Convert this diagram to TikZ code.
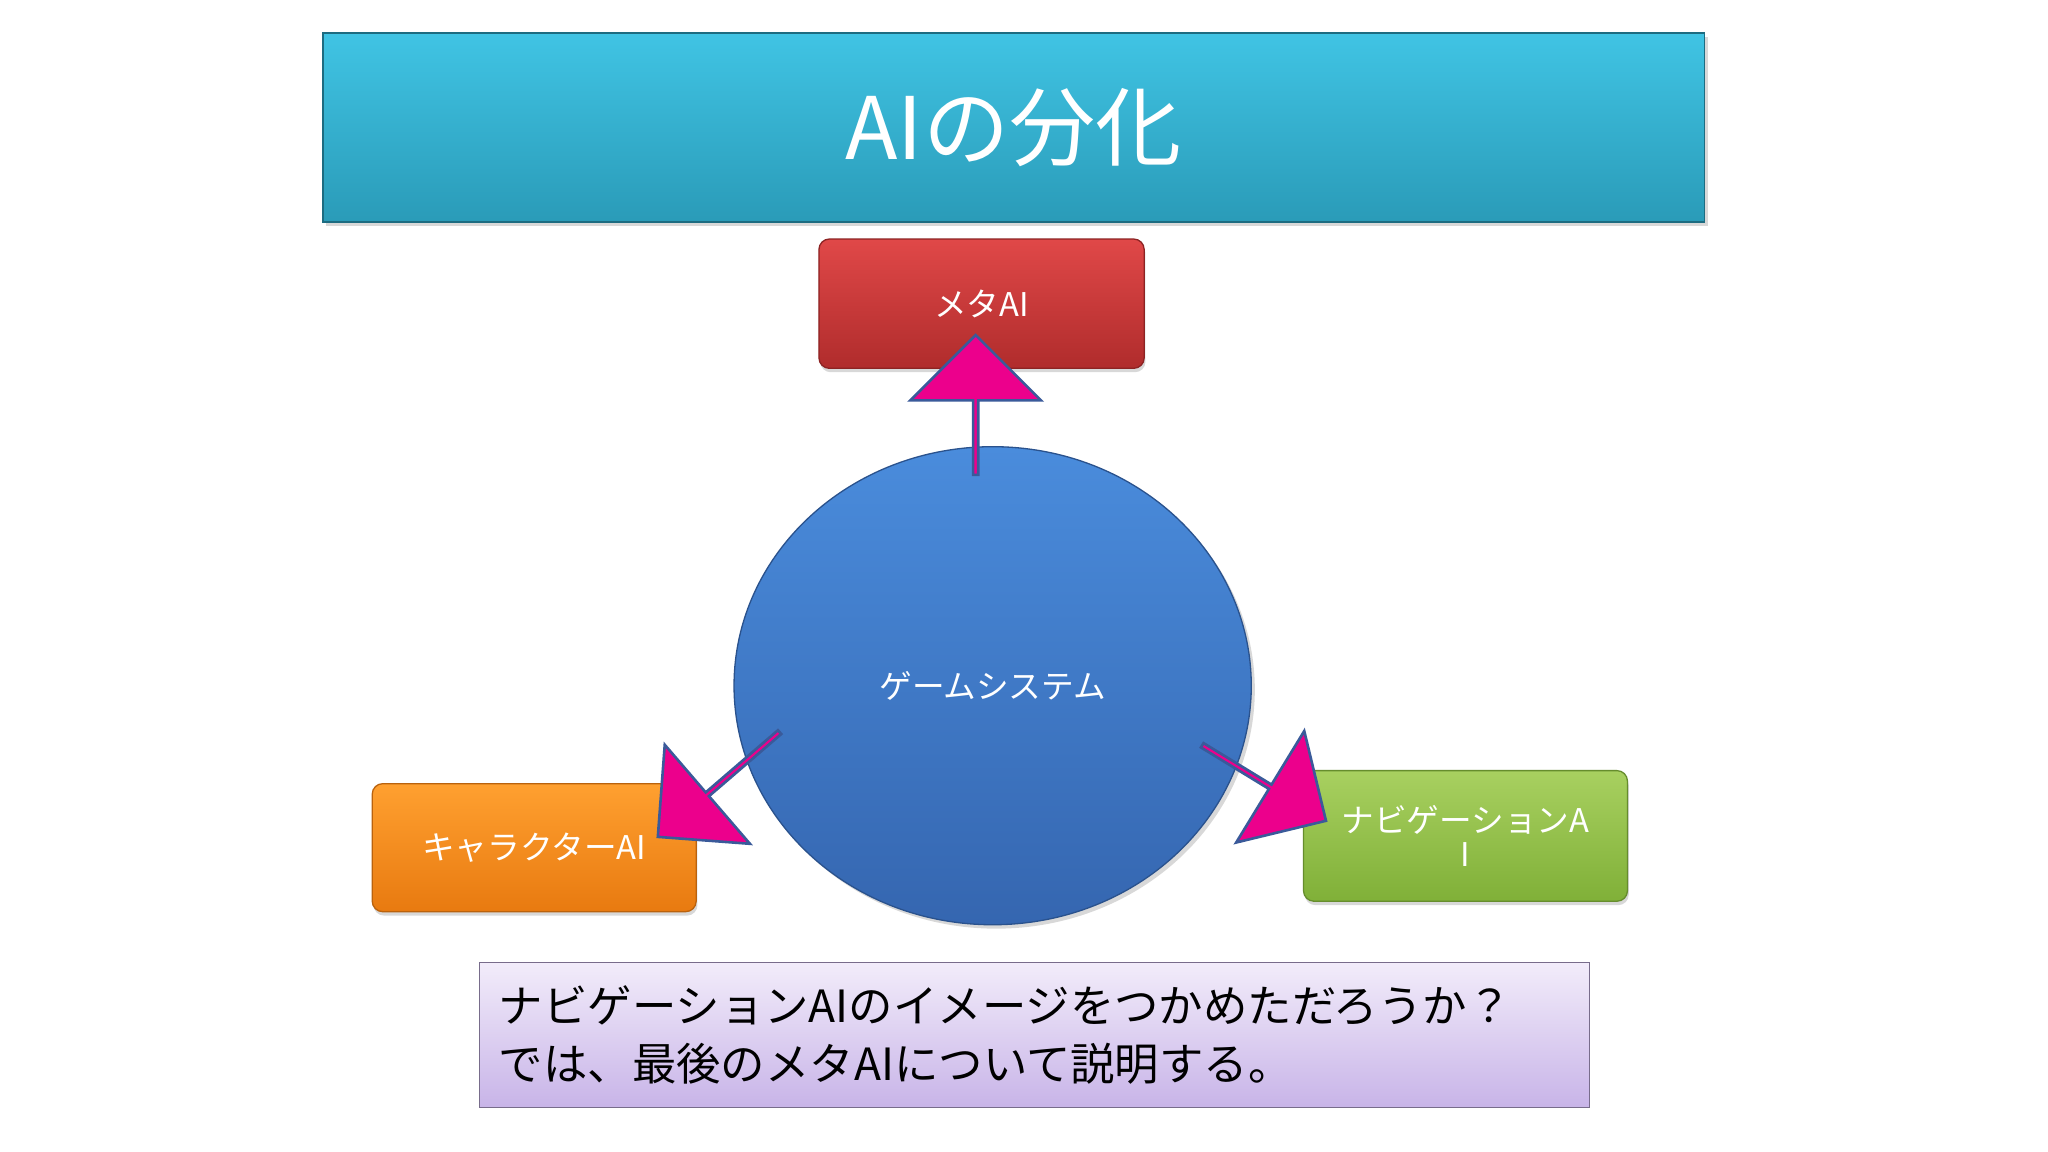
\documentclass[tikz,border=0pt]{standalone}
\usepackage{fontspec}
\setmainfont{Noto Sans CJK JP}
\usetikzlibrary{shapes.arrows,shapes.geometric,shadows}
\definecolor{tealA}{HTML}{40C4E4}\definecolor{tealB}{HTML}{2A9BB8}
\definecolor{redA}{HTML}{E04848}\definecolor{redB}{HTML}{B02C2C}
\definecolor{bluA}{HTML}{4A8CDC}\definecolor{bluB}{HTML}{3566B0}
\definecolor{orA}{HTML}{FFA030}\definecolor{orB}{HTML}{E87A10}
\definecolor{grA}{HTML}{A8D060}\definecolor{grB}{HTML}{80B038}
\definecolor{puA}{HTML}{F2ECFA}\definecolor{puB}{HTML}{C8B4E8}
\definecolor{arrEdge}{HTML}{3A5A9A}
\tikzset{
 box/.style={rounded corners=8pt,draw=#1!80!black,line width=1pt,drop shadow={opacity=0.3,shadow xshift=1pt,shadow yshift=-3pt},text=white,font=\fontsize{25}{30}\selectfont,align=center},
 bigarrow/.style={single arrow,fill=magenta,draw=arrEdge,line width=2pt,inner sep=0pt,minimum width=100pt,single arrow head extend=25pt,single arrow head indent=0pt}
}
\begin{document}
\begin{tikzpicture}[x=1pt,y=-1pt]
\useasboundingbox (0,0) rectangle (1568,882);
\fill[white] (0,0) rectangle (1568,882);
\node[draw=tealB!70!black,line width=1.5pt,top color=tealA,bottom color=tealB,minimum width=1058pt,minimum height=145pt,inner sep=0pt,drop shadow={opacity=0.3,shadow yshift=-3pt},text=white,font=\fontsize{66}{70}\selectfont] (title) at (776,97.5) {AIの分化};
\node[box=redB,top color=redA,bottom color=redB,minimum width=249pt,minimum height=99pt] (meta) at (751.5,232.5) {メタAI};
\node[ellipse,draw=bluB!80!black,line width=1pt,top color=bluA,bottom color=bluB,minimum width=396pt,minimum height=366pt,inner sep=0pt,text=white,font=\fontsize{25}{30}\selectfont,drop shadow={opacity=0.3,shadow yshift=-3pt}] (game) at (760,525) {ゲームシステム};
\node[box=orB,top color=orA,bottom color=orB,minimum width=248pt,minimum height=98pt] (chara) at (409,649) {キャラクターAI};
\node[box=grB,top color=grA,bottom color=grB,minimum width=248pt,minimum height=100pt] (navi) at (1122,640) {ナビゲーションA\\[-4pt]I};
\node[draw=puB!60!black,line width=1pt,top color=puA,bottom color=puB,minimum width=850pt,minimum height=111pt,text width=820pt,align=left,font=\fontsize{34}{44}\selectfont,inner sep=0pt] (msg) at (792,792.5) {ナビゲーションAIのイメージをつかめただろうか？\\では、最後のメタAIについて説明する。};
\node[bigarrow,minimum height=107pt,rotate=90] (a1) at (747,311) {};
\node[bigarrow,minimum height=123pt,rotate=220.7] (a2) at (551,600) {};
\node[bigarrow,minimum height=111pt,rotate=-31.4] (a3) at (967,599) {};
\end{tikzpicture}
\end{document}
